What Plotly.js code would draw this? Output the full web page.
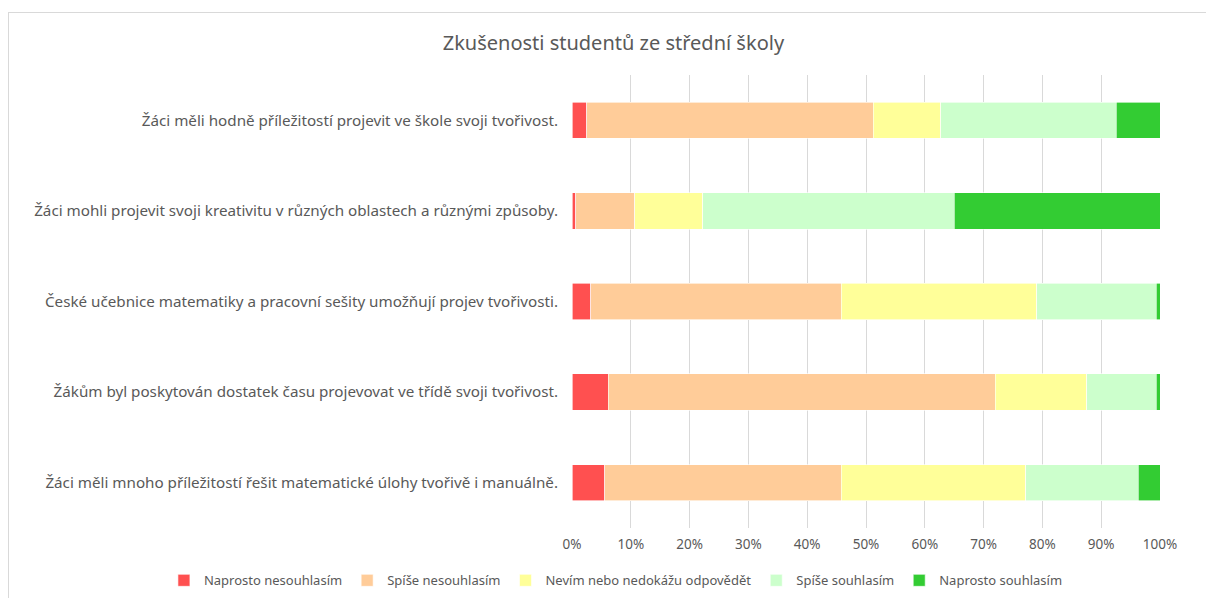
<!DOCTYPE html>
<html>
<head>
<meta charset="utf-8">
<script src="https://cdn.plot.ly/plotly-3.0.1.min.js"></script>
<style>
html,body{margin:0;padding:0;overflow:hidden;background:#fff;width:1206px;height:598px;}
#frame{position:absolute;left:8px;top:12px;width:1210px;height:600px;border:1px solid #D9D9D9;box-sizing:border-box;}
#chart{position:absolute;left:0;top:0;width:1210px;height:600px;}
</style>
</head>
<body>
<div id="frame"><div id="chart"></div></div>
<script>
const categories = [
  "Žáci měli hodně příležitostí projevit ve škole svoji tvořivost.",
  "Žáci mohli projevit svoji kreativitu v různých oblastech a různými způsoby.",
  "České učebnice matematiky a pracovní sešity umožňují projev tvořivosti.",
  "Žákům byl poskytován dostatek času projevovat ve třídě svoji tvořivost.",
  "Žáci měli mnoho příležitostí řešit matematické úlohy tvořivě i manuálně."
];
const seriesNames = ["Naprosto nesouhlasím", "Spíše nesouhlasím", "Nevím nebo nedokážu odpovědět", "Spíše souhlasím", "Naprosto souhlasím"];
const naprostoNesouhlasim = [2.5, 0.6, 3.2, 6.2, 5.6];
const spiseNesouhlasim    = [48.7, 10.1, 42.6, 65.8, 40.2];
const nevim               = [11.5, 11.5, 33.2, 15.5, 31.4];
const spiseSouhlasim      = [29.9, 42.8, 20.4, 11.9, 19.1];
const naprostoSouhlasim   = [7.4, 35.0, 0.6, 0.6, 3.7];
const colors = ["#FF5050", "#FFCC99", "#FFFF99", "#CCFFCC", "#33CC33"];
const tickVals = [0,10,20,30,40,50,60,70,80,90,100];
const tickText = ["0%","10%","20%","30%","40%","50%","60%","70%","80%","90%","100%"];

const values = [naprostoNesouhlasim, spiseNesouhlasim, nevim, spiseSouhlasim, naprostoSouhlasim];
const traces = values.map((v, i) => ({
  type: "bar",
  orientation: "h",
  name: seriesNames[i],
  x: v,
  y: categories,
  marker: {color: colors[i], line: {color: "#ffffff", width: 0.6}},
  hoverinfo: "x+name"
}));

const font = "Noto Sans, Open Sans, sans-serif";
const layout = {
  width: 1210, height: 600,
  margin: {l: 562.5, r: 59, t: 61.5, b: 84.5, pad: 0, autoexpand: false},
  paper_bgcolor: "rgba(0,0,0,0)",
  plot_bgcolor: "rgba(0,0,0,0)",
  barmode: "stack",
  bargap: 0.6,
  font: {family: font, color: "#595959", size: 14},
  title: {text: "Zkušenosti studentů ze střední školy", font: {family: font, size: 20, color: "#595959"},
          xref: "container", x: 0.4995, xanchor: "center", yref: "container", y: 0.95, yanchor: "middle"},
  xaxis: {range: [0, 100], tickvals: tickVals, ticktext: tickText, showgrid: true, gridcolor: "#D9D9D9", gridwidth: 1,
          zeroline: false, showline: false, ticks: "", ticklabelstandoff: 6, tickfont: {size: 13.5, color: "#595959"}, fixedrange: true},
  yaxis: {autorange: "reversed", type: "category", showgrid: false, zeroline: false, showline: false, ticks: "",
          ticklabelstandoff: 13, tickfont: {size: 15.2, color: "#595959"}, fixedrange: true},
  legend: {orientation: "h", xref: "paper", yref: "paper", x: -0.694, xanchor: "left", y: -0.1156, yanchor: "middle",
           font: {size: 13, color: "#595959"}, traceorder: "normal", itemwidth: 30},
  showlegend: true
};
Plotly.newPlot("chart", traces, layout, {displayModeBar: false, staticPlot: true});
</script>
</body>
</html>
